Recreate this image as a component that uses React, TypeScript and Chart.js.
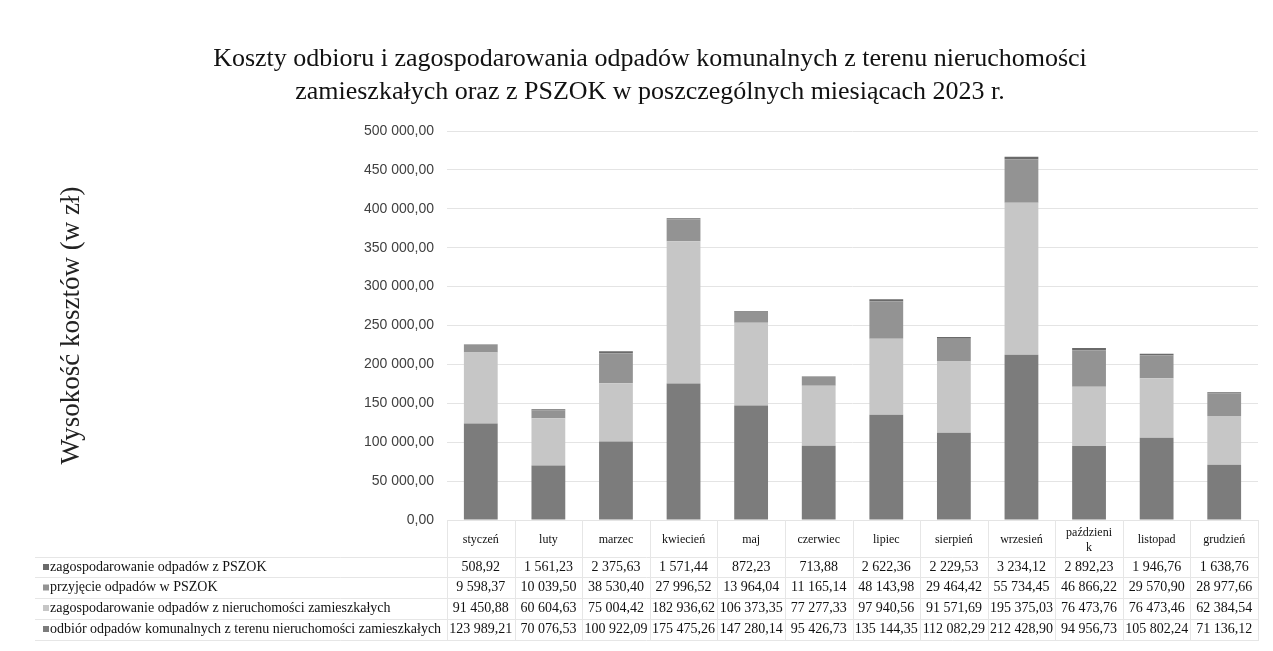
import React, { useEffect, useRef } from "react";
import { Chart, registerables } from "chart.js";

Chart.register(...registerables);

const titleLines = [
  "Koszty odbioru i zagospodarowania odpadów komunalnych z terenu nieruchomości",
  "zamieszkałych oraz z PSZOK w poszczególnych miesiącach 2023 r.",
];
const yAxisTitle = "Wysokość kosztów (w zł)";

const months = [
  "styczeń", "luty", "marzec", "kwiecień", "maj", "czerwiec",
  "lipiec", "sierpień", "wrzesień", "październik", "listopad", "grudzień",
];
const monthTickLabels: (string | string[])[] = [
  "styczeń", "luty", "marzec", "kwiecień", "maj", "czerwiec",
  "lipiec", "sierpień", "wrzesień", ["paździeni", "k"], "listopad", "grudzień",
];

const odbiorNieruchomosci = [123989.21, 70076.53, 100922.09, 175475.26, 147280.14, 95426.73, 135144.35, 112082.29, 212428.9, 94956.73, 105802.24, 71136.12];
const zagospodarowanieNieruchomosci = [91450.88, 60604.63, 75004.42, 182936.62, 106373.35, 77277.33, 97940.56, 91571.69, 195375.03, 76473.76, 76473.46, 62384.54];
const przyjeciePszok = [9598.37, 10039.5, 38530.4, 27996.52, 13964.04, 11165.14, 48143.98, 29464.42, 55734.45, 46866.22, 29570.9, 28977.66];
const zagospodarowaniePszok = [508.92, 1561.23, 2375.63, 1571.44, 872.23, 713.88, 2622.36, 2229.53, 3234.12, 2892.23, 1946.76, 1638.76];

const seriesNames = [
  "odbiór odpadów komunalnych z terenu nieruchomości zamieszkałych",
  "zagospodarowanie odpadów z nieruchomości zamieszkałych",
  "przyjęcie odpadów w PSZOK",
  "zagospodarowanie odpadów z PSZOK",
];
const seriesColors = ["#7c7c7c", "#c6c6c6", "#939393", "#6a6a6a"];

const yTicks = { min: 0, max: 500000, step: 50000 };

function fmt(v: number): string {
  const [i, d] = Math.abs(v).toFixed(2).split(".");
  const g = i.replace(/\B(?=(\d{3})+(?!\d))/g, " ");
  return (v < 0 ? "-" : "") + g + "," + d;
}

const SERIF = "'Liberation Serif', 'Times New Roman', serif";
const SANS = "'Liberation Sans', Arial, sans-serif";

export default function App() {
  const ref = useRef<HTMLCanvasElement | null>(null);

  useEffect(() => {
    if (!ref.current) return;
    const seriesData = [odbiorNieruchomosci, zagospodarowanieNieruchomosci, przyjeciePszok, zagospodarowaniePszok];

    const tablePlugin = {
      id: "dataTable",
      afterDraw(chart: any) {
        const { ctx, chartArea } = chart;
        const x = chart.scales.x;
        const n = months.length;
        const step = (x.right - x.left) / n;
        const rowYs = [559, 579.5, 600, 621];
        const tableLeft = 27;
        const tableBottom = 633;
        ctx.save();
        ctx.strokeStyle = "#e6e6e6";
        ctx.lineWidth = 1;
        for (let i = 0; i <= n; i++) {
          const px = Math.round(x.left + i * step) + 0.5;
          ctx.beginPath();
          ctx.moveTo(px, chartArea.bottom);
          ctx.lineTo(px, tableBottom);
          ctx.stroke();
        }
        const hLines = [549, 569, 590, 610.5, 632];
        hLines.forEach((hy) => {
          ctx.beginPath();
          ctx.moveTo(tableLeft, Math.round(hy) + 0.5);
          ctx.lineTo(x.right, Math.round(hy) + 0.5);
          ctx.stroke();
        });
        ctx.font = `14px ${SERIF}`;
        ctx.textBaseline = "middle";
        for (let r = 0; r < 4; r++) {
          const si = 3 - r;
          const y = rowYs[r];
          ctx.fillStyle = seriesColors[si];
          ctx.fillRect(35, y - 3, 6, 6);
          ctx.fillStyle = "#111";
          ctx.textAlign = "left";
          ctx.fillText(seriesNames[si], 42, y);
          ctx.textAlign = "center";
          seriesData[si].forEach((v, i) => {
            ctx.fillText(fmt(v), x.getPixelForValue(i), y);
          });
        }
        ctx.restore();
      },
    };

    const chart = new Chart(ref.current, {
      type: "bar",
      data: {
        labels: monthTickLabels as any,
        datasets: seriesNames.map((name, i) => ({
          label: name,
          data: seriesData[i],
          backgroundColor: seriesColors[i],
          borderWidth: 0,
          barPercentage: 0.5,
          categoryPercentage: 1,
        })),
      },
      options: {
        responsive: false,
        animation: false,
        layout: { padding: { left: 34, right: 7, top: 0, bottom: 0 } },
        plugins: {
          legend: { display: false },
          tooltip: { enabled: false },
          title: {
            display: true,
            text: titleLines,
            color: "#111",
            font: { family: SERIF, size: 26, weight: "normal", lineHeight: 1.25 },
            padding: { top: 35, bottom: 23 },
          },
        },
        scales: {
          x: {
            stacked: true,
            grid: { display: false, drawTicks: false },
            border: { display: false },
            ticks: {
              font: { family: SERIF, size: 12 },
              color: "#111",
              padding: 13,
              maxRotation: 0,
              autoSkip: false,
              crossAlign: "center",
            },
            afterFit: (s: any) => {
              s.height = 131;
            },
          },
          y: {
            stacked: true,
            min: yTicks.min,
            max: yTicks.max,
            ticks: {
              stepSize: yTicks.step,
              callback: (v: any) => fmt(Number(v)),
              font: { family: SANS, size: 14 },
              color: "#404040",
              padding: 13,
            },
            grid: { color: "#e4e4e4", drawTicks: false },
            border: { display: false },
            title: {
              display: true,
              text: yAxisTitle,
              color: "#222",
              font: { family: SERIF, size: 27 },
              padding: { top: 14 },
            },
            afterFit: (s: any) => {
              s.width = 405;
            },
          },
        },
      },
      plugins: [tablePlugin],
    } as any);
    return () => chart.destroy();
  }, []);

  return <canvas ref={ref} width={1257} height={643} style={{ display: "block" }} />;
}
